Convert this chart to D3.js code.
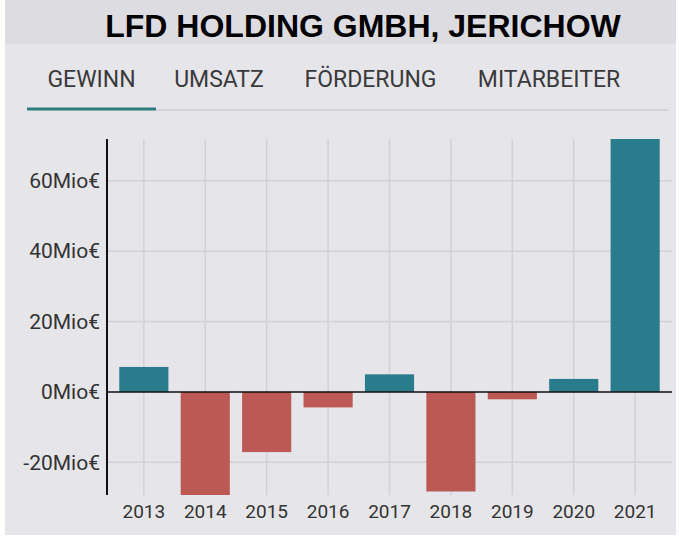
<!DOCTYPE html>
<html>
<head>
<meta charset="utf-8">
<script src="https://cdn.jsdelivr.net/npm/d3@7"></script>
<style>
  body { margin: 0; background: #fff; }
  svg { display: block; }
</style>
</head>
<body>
<div id="chart"></div>
<script>
// values (Mio €)
const years = ["2013", "2014", "2015", "2016", "2017", "2018", "2019", "2020", "2021"];
const gewinn = [7.1, -29.3, -17.1, -4.4, 5.0, -28.3, -2.1, 3.7, 71.9];
const yTicks = [-20, 0, 20, 40, 60];
const tabs = ["GEWINN", "UMSATZ", "FÖRDERUNG", "MITARBEITER"];
const tabCenters = [91.5, 219, 370.5, 549];

const width = 679, height = 537;
const teal = "#287c8c", red = "#bc5955";

const svg = d3.select("#chart").append("svg")
  .attr("width", width)
  .attr("height", height);

// page background + title band
svg.append("rect").attr("x", 5).attr("y", 0).attr("width", 671).attr("height", 535).attr("fill", "#e6e5ea");
svg.append("rect").attr("x", 5).attr("y", 0).attr("width", 671).attr("height", 44).attr("fill", "#dddce1");

svg.append("text")
  .attr("x", 363).attr("y", 37)
  .attr("text-anchor", "middle")
  .attr("font-family", "'Liberation Sans', Arial, sans-serif")
  .attr("font-weight", "bold")
  .attr("font-size", 32)
  .attr("fill", "#000")
  .text("LFD HOLDING GMBH, JERICHOW");

// tabs
svg.selectAll(".tab").data(tabs).join("text")
  .attr("class", "tab")
  .attr("x", (d, i) => tabCenters[i])
  .attr("y", 87)
  .attr("text-anchor", "middle")
  .attr("font-family", "Roboto, sans-serif")
  .attr("font-size", 23)
  .attr("fill", "#3a3a3c")
  .text(d => d);

svg.append("line").attr("x1", 156).attr("x2", 668).attr("y1", 110).attr("y2", 110)
  .attr("stroke", "#d4d3d8").attr("stroke-width", 2);
svg.append("line").attr("x1", 27).attr("x2", 156).attr("y1", 109).attr("y2", 109)
  .attr("stroke", "#2e7d7c").attr("stroke-width", 3);

// chart
const plot = { left: 107, right: 672, top: 139, bottom: 495 };

const x = d3.scaleBand()
  .domain(years)
  .range([plot.left, plot.right])
  .paddingInner(0.2)
  .paddingOuter(0.2);

const y = d3.scaleLinear()
  .domain(d3.extent(gewinn))
  .range([plot.bottom, plot.top]);

const g = svg.append("g");

// grid
g.selectAll(".vgrid").data(years).join("line")
  .attr("class", "vgrid")
  .attr("x1", d => x(d) + x.bandwidth() / 2)
  .attr("x2", d => x(d) + x.bandwidth() / 2)
  .attr("y1", plot.top).attr("y2", plot.bottom)
  .attr("stroke", "#d2d1d6").attr("stroke-width", 1.5);

g.selectAll(".hgrid").data(yTicks.filter(d => d !== 0)).join("line")
  .attr("class", "hgrid")
  .attr("x1", plot.left).attr("x2", plot.right)
  .attr("y1", d => y(d)).attr("y2", d => y(d))
  .attr("stroke", "#d2d1d6").attr("stroke-width", 1.5);

// bars
g.selectAll(".bar").data(gewinn).join("rect")
  .attr("class", "bar")
  .attr("x", (d, i) => x(years[i]))
  .attr("width", x.bandwidth())
  .attr("y", d => y(Math.max(0, d)))
  .attr("height", d => Math.abs(y(d) - y(0)))
  .attr("fill", d => d >= 0 ? teal : red);

// zero line
g.append("line")
  .attr("x1", plot.left).attr("x2", plot.right)
  .attr("y1", y(0)).attr("y2", y(0))
  .attr("stroke", "#111").attr("stroke-width", 1.5);

// axes
const yAxis = g.append("g")
  .attr("transform", `translate(${plot.left},0)`)
  .call(d3.axisLeft(y).tickValues(yTicks).tickSize(0).tickPadding(7).tickFormat(d => d + "Mio€"));
yAxis.select(".domain").remove();
yAxis.selectAll("text")
  .attr("font-family", "Roboto, sans-serif")
  .attr("font-size", 21)
  .attr("fill", "#333");

g.append("line")
  .attr("x1", plot.left).attr("x2", plot.left)
  .attr("y1", plot.top).attr("y2", plot.bottom)
  .attr("stroke", "#111").attr("stroke-width", 2);

const xAxis = g.append("g")
  .attr("transform", `translate(0,${plot.bottom})`)
  .call(d3.axisBottom(x).tickSize(0).tickPadding(10));
xAxis.select(".domain").remove();
xAxis.selectAll("text")
  .attr("font-family", "Roboto, sans-serif")
  .attr("font-size", 19)
  .attr("fill", "#333");
</script>
</body>
</html>
